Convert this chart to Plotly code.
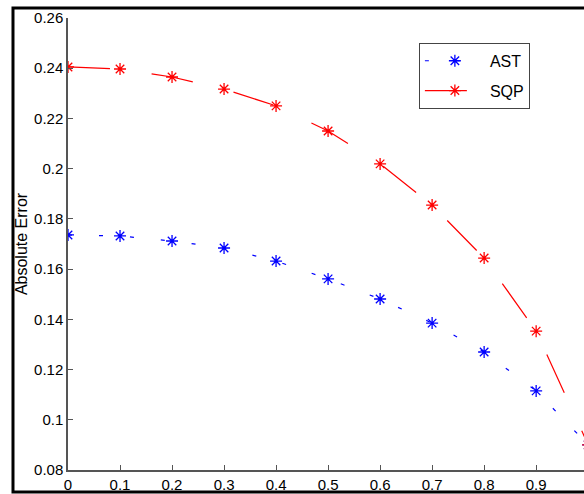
import plotly.graph_objects as go

x_vals = [0, 0.1, 0.2, 0.3, 0.4, 0.5, 0.6, 0.7, 0.8, 0.9, 1.0]
ast_err = [0.1736, 0.1732, 0.1712, 0.1684, 0.1632, 0.1561, 0.1481, 0.1385, 0.1270, 0.1115, 0.0900]
sqp_err = [0.2405, 0.2397, 0.2365, 0.2317, 0.2250, 0.2150, 0.2019, 0.1855, 0.1644, 0.1353, 0.0900]

x_ticks = [0, 0.1, 0.2, 0.3, 0.4, 0.5, 0.6, 0.7, 0.8, 0.9, 1.0]
y_ticks = [0.08, 0.10, 0.12, 0.14, 0.16, 0.18, 0.20, 0.22, 0.24, 0.26]

fig = go.Figure()
fig.add_trace(go.Scatter(
    x=x_vals, y=ast_err, name="AST", mode="lines+markers", legendgroup="a",
    line=dict(color="#0000ff", width=1.2, dash="4px,27px"),
    marker=dict(symbol="asterisk-open", size=10, line=dict(color="#0000ff", width=1.3)),
))
fig.add_trace(go.Scatter(
    x=x_vals, y=sqp_err, name="SQP", mode="lines+markers", legendgroup="b",
    line=dict(color="#ff0000", width=1.2, dash="42px,42px"),
    marker=dict(symbol="asterisk-open", size=10, line=dict(color="#ff0000", width=1.3)),
))

fig.update_layout(
    width=584, height=494,
    margin=dict(l=68, r=0, t=18, b=24),
    plot_bgcolor="white", paper_bgcolor="white",
    font=dict(family="Liberation Sans, Arial, sans-serif", size=15, color="#000"),
    legend=dict(
        x=0.68, y=0.945, xanchor="left", yanchor="top",
        bgcolor="white", bordercolor="#444", borderwidth=1,
        font=dict(size=16), itemwidth=60, tracegroupgap=6,
        traceorder="grouped",
    ),
    showlegend=True,
)
fig.update_xaxes(
    range=[0, 0.992], tickvals=x_ticks, ticks="inside", ticklen=5,
    showline=True, linecolor="#555", linewidth=1.5, tickcolor="#555",
    showgrid=False, zeroline=False,
)
fig.update_yaxes(
    range=[0.08, 0.26], tickvals=y_ticks, ticks="inside", ticklen=5,
    showline=True, linecolor="#555", linewidth=1.5, tickcolor="#555",
    showgrid=False, zeroline=False,
    title=dict(text="Absolute Error", font=dict(size=16), standoff=2),
)

fig.add_shape(
    type="rect", xref="paper", yref="paper",
    x0=-0.1066, x1=1.2, y0=-0.0487, y1=1.022,
    line=dict(color="black", width=3), fillcolor="rgba(0,0,0,0)",
    layer="above",
)

fig.write_html("out.html")
